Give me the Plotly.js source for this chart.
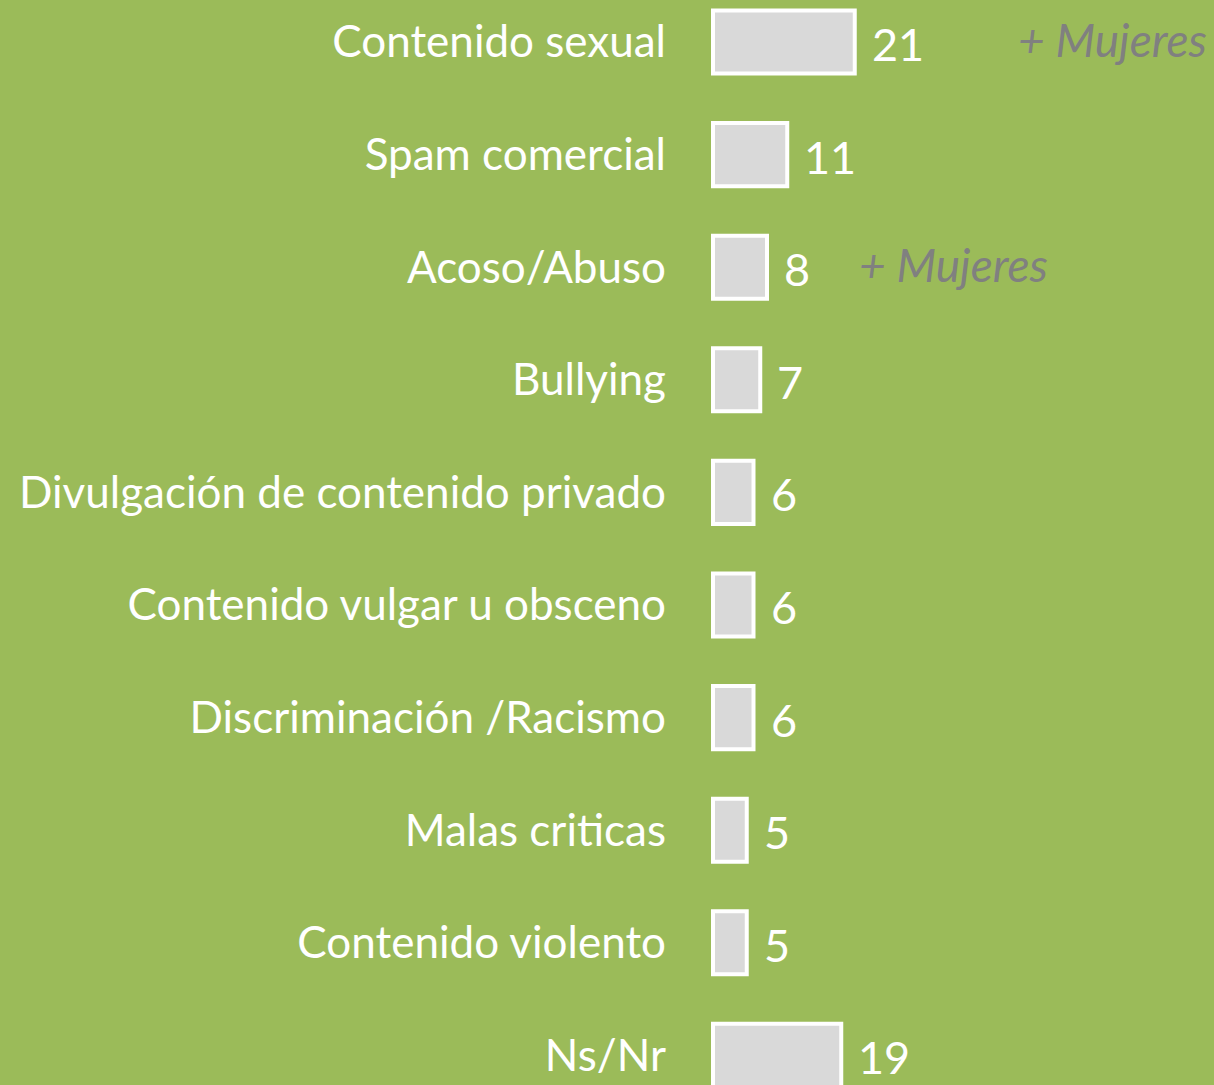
<!DOCTYPE html>
<html>
<head>
<meta charset="utf-8">
<script src="https://cdn.plot.ly/plotly-3.0.1.min.js"></script>
<style>html,body{margin:0;padding:0;background:#9BBB59;overflow:hidden}#chart{width:1214px;height:1085px}</style>
</head>
<body>
<div id="chart"></div>
<script>
const categories = ["Contenido sexual","Spam comercial","Acoso/Abuso","Bullying","Divulgación de contenido privado","Contenido vulgar u obsceno","Discriminación /Racismo","Malas criticas","Contenido violento","Ns/Nr"];
const values = [21,11,8,7,6,6,6,5,5,19];
const notes = ["+ Mujeres","","+ Mujeres","","","","","","",""];
const noteOffsets = [161,0,90,0,0,0,0,0,0,0];

const FONT = "Lato, 'Open Sans', sans-serif";
const pxPerUnit = 6.75;
const x0px = 713, lpx = 708;
const annotations = [];
categories.forEach((c,i)=>{
  annotations.push({x:values[i], y:c, xref:'x', yref:'y', text:String(values[i]), showarrow:false,
    xanchor:'left', yanchor:'middle', xshift:15, yshift:-2, font:{family:FONT,size:45,color:'#FFFFFF'}});
  if(notes[i]){
    annotations.push({x:values[i], y:c, xref:'x', yref:'y', text:'<i>'+notes[i]+'</i>', showarrow:false,
      xanchor:'left', yanchor:'middle', xshift:noteOffsets[i], yshift:3, font:{family:FONT,size:46,color:'#808080'}});
  }
});

const trace = {
  type:'bar', orientation:'h', x:values, y:categories,
  marker:{color:'#D9D9D9', line:{color:'#FFFFFF', width:4}},
  hoverinfo:'none', cliponaxis:false
};
const layout = {
  width:1214, height:1085,
  margin:{l:lpx, r:0, t:0, b:0, pad:0},
  paper_bgcolor:'#9BBB59', plot_bgcolor:'#9BBB59',
  showlegend:false, bargap:0.44,
  xaxis:{range:[-(x0px-lpx)/pxPerUnit, (1214-x0px)/pxPerUnit], showgrid:false, zeroline:false, showticklabels:false, showline:false, fixedrange:true},
  yaxis:{type:'category', range:[(1085-42)/112.6, -42/112.6], showgrid:false, zeroline:false, showline:false,
    ticks:'', ticklabelstandoff:41, tickfont:{family:FONT,size:44,color:'#FFFFFF'}, fixedrange:true},
  annotations:annotations
};
Plotly.newPlot('chart',[trace],layout,{displayModeBar:false,staticPlot:true});
</script>
</body>
</html>
